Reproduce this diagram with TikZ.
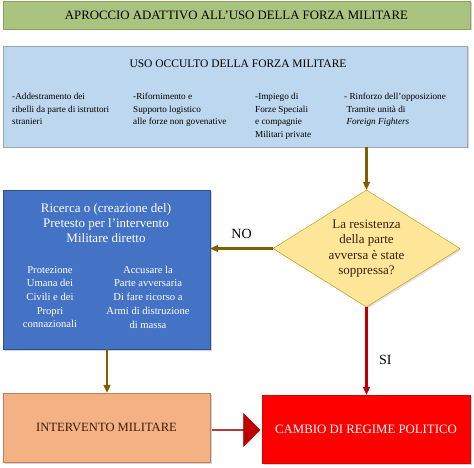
\documentclass[tikz,border=0pt]{standalone}
\usepackage{fontspec}
\setmainfont{Liberation Serif}
\usetikzlibrary{arrows.meta,shapes.geometric,shapes.arrows,shadows}
\definecolor{verde}{HTML}{A9C47F}
\definecolor{verdebordo}{HTML}{8AA25E}
\definecolor{azzurro}{HTML}{BDD7EE}
\definecolor{azzurrobordo}{HTML}{9AA6B2}
\definecolor{blu}{HTML}{4472C4}
\definecolor{blubordo}{HTML}{2F528F}
\definecolor{giallo}{HTML}{FFE699}
\definecolor{giallobordo}{HTML}{BF9000}
\definecolor{arancio}{HTML}{F4B183}
\definecolor{aranciobordo}{HTML}{C07F5A}
\definecolor{rosso}{HTML}{FF0000}
\definecolor{rossoscuro}{HTML}{C00000}
\definecolor{marrone}{HTML}{7F6000}
\definecolor{testoscuro}{HTML}{3B1D0C}
\begin{document}
\begin{tikzpicture}[
  x=1pt, y=-1pt,
  box/.style={rectangle, draw, inner sep=0pt, align=center, drop shadow={shadow xshift=1.5pt, shadow yshift=-1.5pt, opacity=0.35}},
  voce/.style={anchor=north west, inner sep=0pt, align=left, font=\fontsize{9.2}{12.5}\selectfont},
  freccia/.style={-{Triangle[width=7pt,length=8pt]}, line width=2.5pt, draw=marrone},
  etichetta/.style={font=\fontsize{14}{15}\selectfont}
]
\useasboundingbox (0,0) rectangle (474,468);

\node[box, fill=verde, draw=verdebordo, minimum width=467, minimum height=28, font=\fontsize{12.8}{14}\selectfont] (titolo) at (236.5,15) {APROCCIO ADATTIVO ALL'USO DELLA FORZA MILITARE};

\node[box, fill=azzurro, draw=azzurrobordo, minimum width=464, minimum height=101] (occulto) at (235,96.5) {};
\node[font=\fontsize{11.5}{13}\selectfont] (occultotit) at (238,64) {USO OCCULTO DELLA FORZA MILITARE};
\node[voce] (item1) at (12,93) {-Addestramento dei\\ ribelli da parte di istruttori\\ stranieri};
\node[voce] (item2) at (133,93) {-Rifornimento e\\Supporto logistico\\alle forze non govenative};
\node[voce] (item3) at (255,93) {-Impiego di\\ Forze Speciali\\ e compagnie\\ Militari private};
\node[voce] (item4) at (344,93) {- Rinforzo dell'opposizione\\ \ Tramite unità di\\ \ \textit{Foreign Fighters}};

\node[box, fill=blu, draw=blubordo, minimum width=207, minimum height=159] (pretesto) at (106.5,269.5) {};
\node[text=white, align=center, font=\fontsize{13}{15}\selectfont] (pretestotit) at (106,223) {Ricerca o (creazione del)\\Pretesto per l'intervento\\Militare diretto};
\node[text=white, align=center, font=\fontsize{10.6}{13.7}\selectfont] (protezione) at (50,297) {Protezione\\Umana dei\\Civili e dei\\Propri\\connazionali};
\node[text=white, align=center, font=\fontsize{10.6}{13.7}\selectfont] (accusa) at (148,297) {Accusare la\\Parte avversaria\\Di fare ricorso a\\Armi di distruzione\\di massa};

\node[diamond, draw=giallobordo, fill=giallo, inner sep=0pt, shape aspect=1.6, minimum width=187, minimum height=117, text=testoscuro, align=center, font=\fontsize{13}{15.5}\selectfont, drop shadow={shadow xshift=1.5pt, shadow yshift=-1.5pt, opacity=0.25}] (quesito) at (366.5,248.5) {La resistenza\\della parte\\avversa è state\\soppressa?};

\node[box, fill=arancio, draw=aranciobordo, minimum width=207, minimum height=69, text=testoscuro, font=\fontsize{12.6}{14}\selectfont] (intervento) at (106.5,427.5) {INTERVENTO MILITARE};
\node[box, fill=rosso, draw=rosso!85!black, minimum width=208, minimum height=68, text=white, font=\fontsize{12.8}{14}\selectfont] (cambio) at (366,429) {CAMBIO DI REGIME POLITICO};

\node[single arrow, fill=rossoscuro, draw=rossoscuro!80!black, minimum height=48, minimum width=33, single arrow head extend=9pt, inner sep=0pt] (spinta) at (236,430) {};

\draw[freccia] (occulto.south -| quesito.north) -- (quesito.north);
\draw[freccia] (quesito.west) -- (pretesto.east |- quesito.west) node[etichetta, midway, above=5pt] (no) {NO};
\draw[freccia] (pretesto.south -| 107,0) -- (intervento.north -| 107,0);
\draw[freccia, draw=rossoscuro] (quesito.south) -- (cambio.north -| quesito.south) node[etichetta, pos=0.6, right=8pt] (si) {SI};
\end{tikzpicture}
\end{document}
